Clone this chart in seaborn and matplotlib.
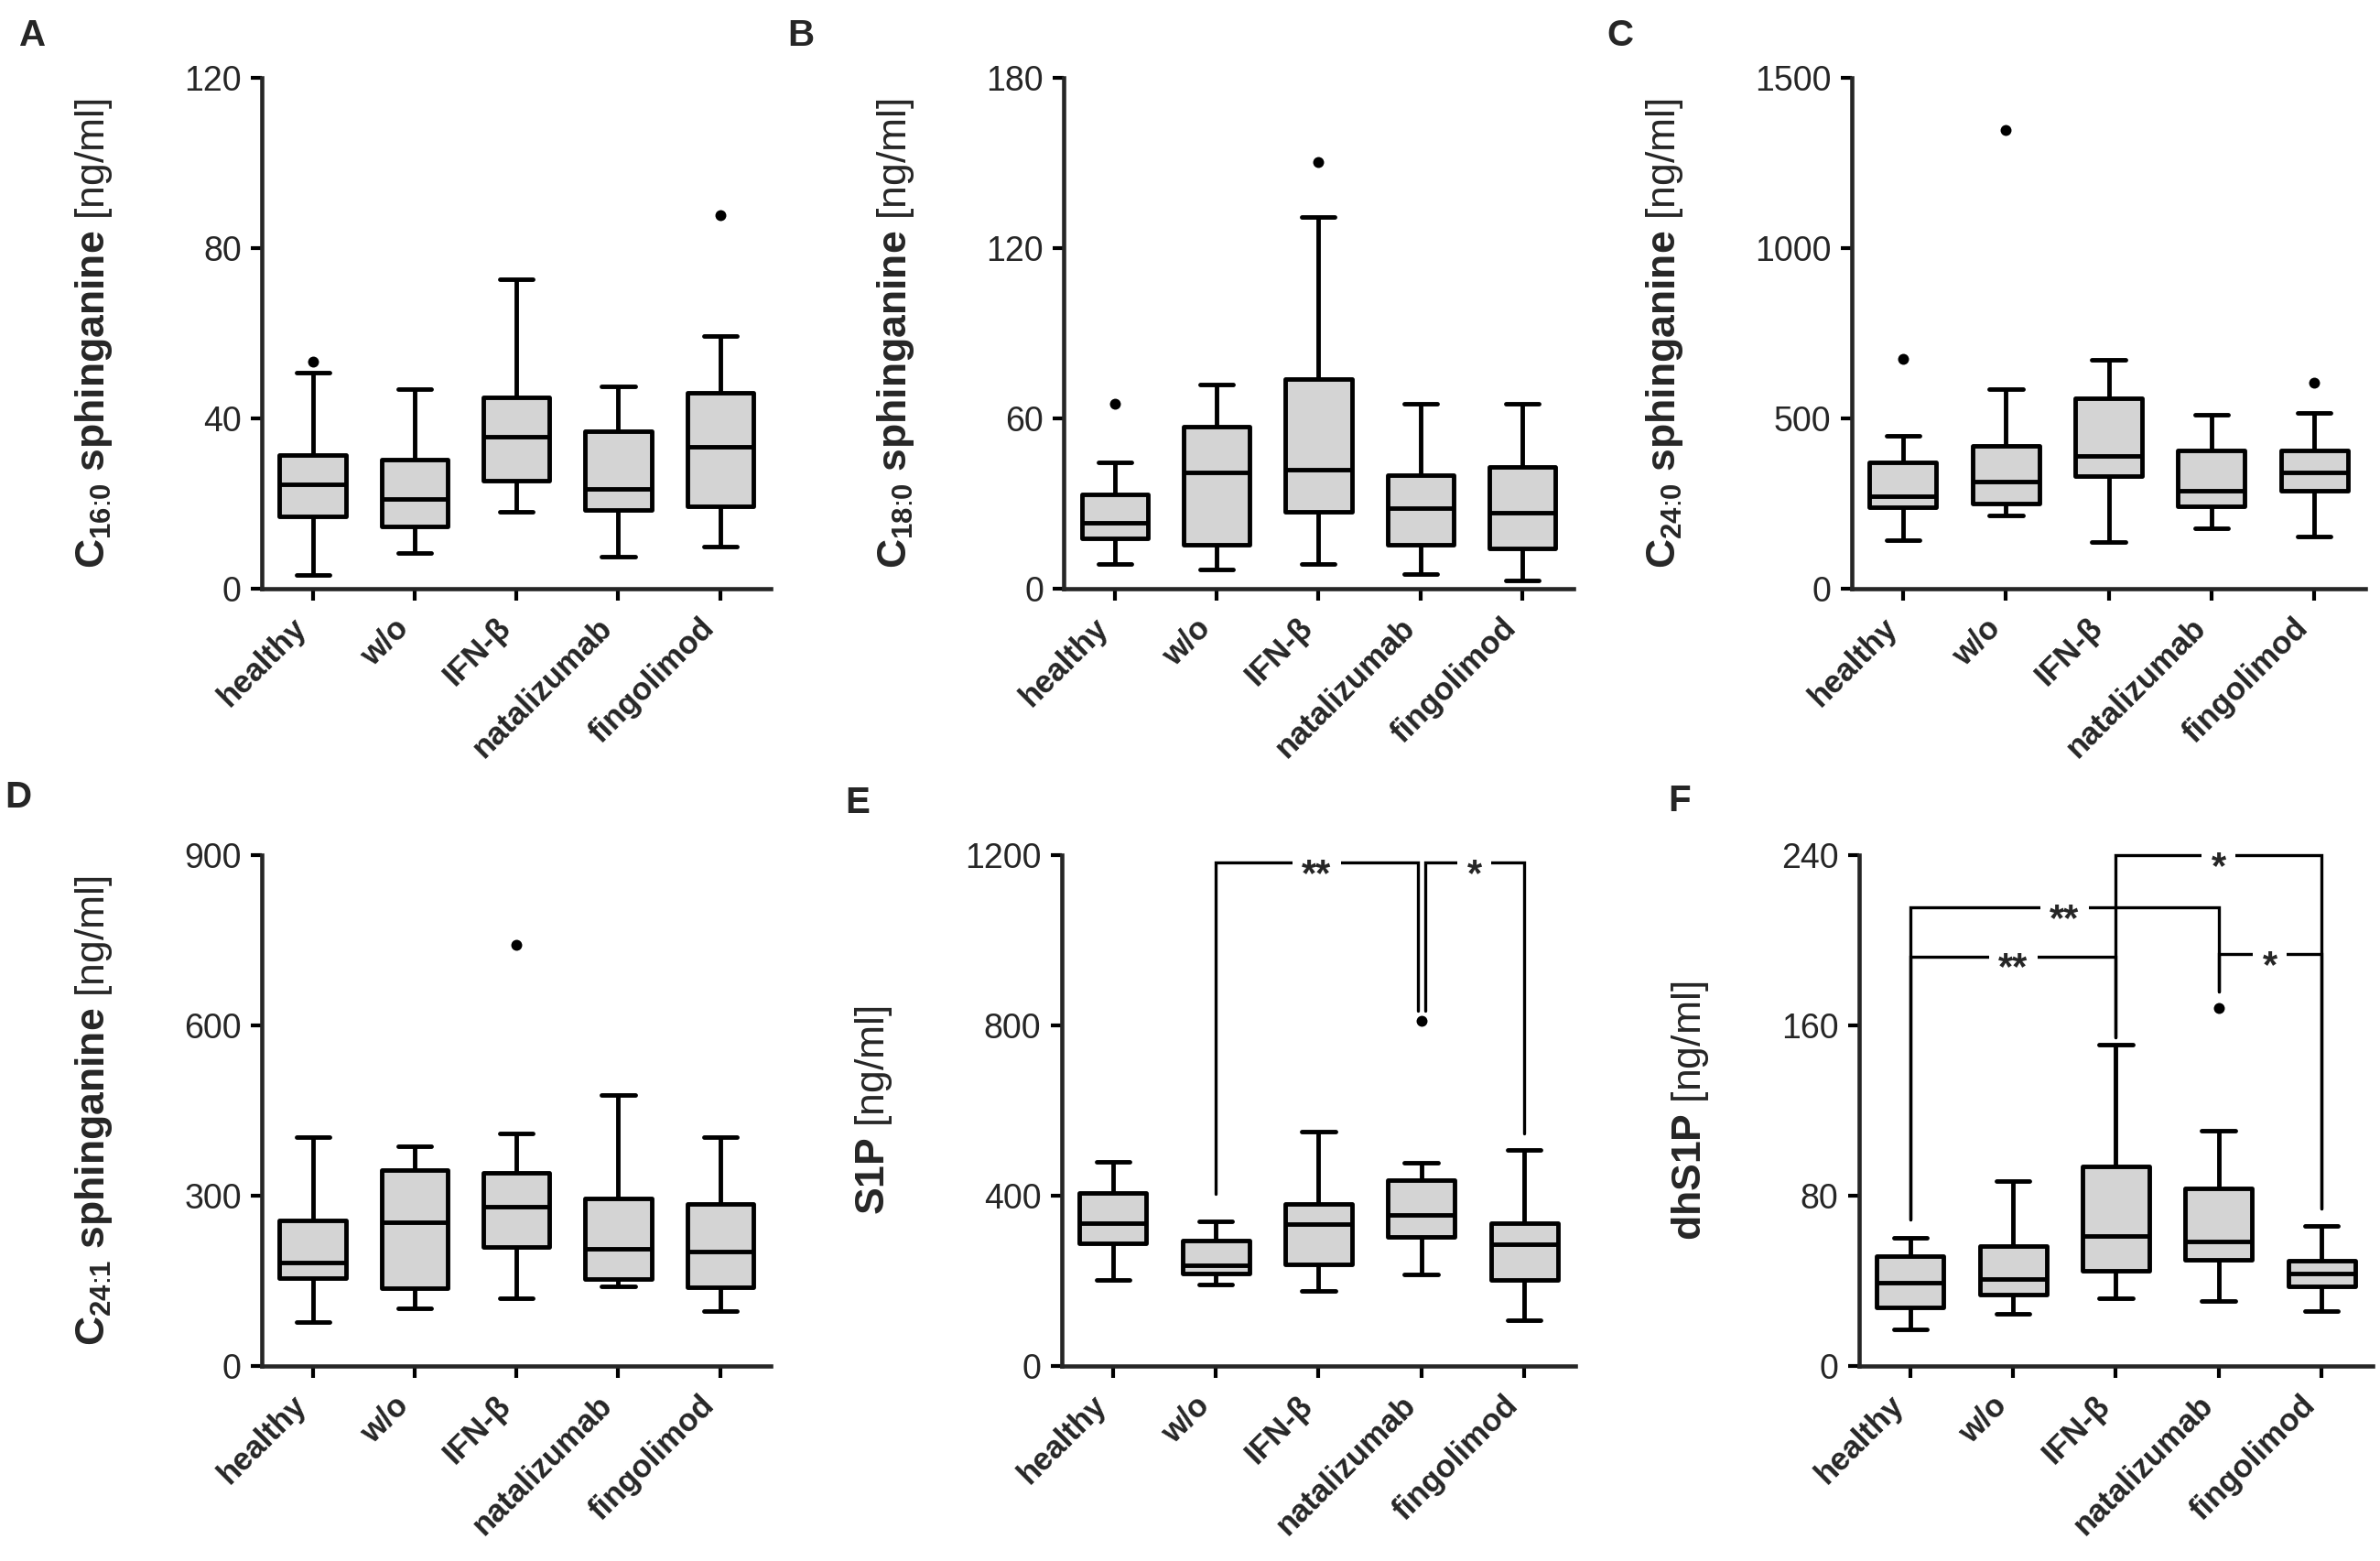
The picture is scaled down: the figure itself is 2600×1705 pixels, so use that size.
import matplotlib
matplotlib.use('Agg')
import matplotlib.pyplot as plt
import pandas as pd
import seaborn as sns

# groups on the x axis
groups = ['healthy', 'w/o', 'IFN-β', 'natalizumab', 'fingolimod']

# five-number summaries: [min, q1, median, q3, max] per group
c16_0 = [[3.1, 16.9, 24.5, 31.4, 50.7],
         [8.3, 14.5, 21.0, 30.4, 46.8],
         [18.0, 25.4, 35.6, 44.9, 72.7],
         [7.4, 18.4, 23.5, 37.0, 47.6],
         [9.8, 19.3, 33.4, 46.1, 59.3]]
c16_0_out = [53.3, None, None, None, 87.7]

c18_0 = [[8.6, 17.8, 23.3, 33.3, 44.5],
         [6.6, 15.3, 40.8, 57.0, 72.0],
         [8.6, 27.2, 42.0, 73.8, 130.9],
         [5.0, 15.3, 28.4, 40.0, 65.2],
         [2.7, 14.2, 26.6, 43.0, 65.2]]
c18_0_out = [65.2, None, 150.3, None, None]

c24_0 = [[141, 238, 270, 371, 449],
         [215, 250, 315, 418, 585],
         [137, 329, 389, 559, 673],
         [176, 241, 288, 406, 510],
         [154, 288, 342, 406, 517]]
c24_0_out = [676, 1346, None, None, 605]

c24_1 = [[77, 155, 182, 257, 403],
         [102, 137, 254, 346, 387],
         [119, 209, 281, 340, 410],
         [141, 153, 207, 295, 477],
         [96, 138, 201, 286, 403]]
c24_1_out = [None, None, 743, None, None]

s1p = [[203, 289, 335, 406, 480],
       [191, 218, 237, 294, 339],
       [176, 239, 333, 381, 551],
       [214, 303, 355, 437, 478],
       [107, 201, 285, 335, 508]]
s1p_out = [None, None, None, 812, None]

dhs1p = [[17.1, 27.6, 39.2, 51.8, 60.1],
         [24.4, 33.4, 40.9, 56.4, 87.1],
         [31.7, 44.7, 61.0, 93.9, 150.9],
         [30.7, 49.7, 58.5, 83.3, 110.6],
         [25.7, 37.4, 43.6, 49.5, 65.8]]
dhs1p_out = [None, None, None, 168.1, None]

# significance brackets: (x1, x2, height, left leg end, right leg end, label)
s1p_sig = [(1, 2.965, 1184, 404, 835, '**'),
           (3.035, 4, 1184, 835, 546, '*')]
dhs1p_sig = [(2, 4, 240, 154.5, 74, '*'),
             (0, 3, 215.5, 69, 176, '**'),
             (0, 2, 192.5, 69, 154.5, '**'),
             (3, 4, 193.5, 176, 74, '*')]

sns.set_style('ticks')
plt.rcParams['font.family'] = ['Liberation Sans', 'DejaVu Sans']
plt.rcParams['mathtext.fontset'] = 'custom'
plt.rcParams['mathtext.rm'] = 'Liberation Sans'
plt.rcParams['mathtext.bf'] = 'Liberation Sans:bold'
plt.rcParams['mathtext.it'] = 'Liberation Sans:italic'


def long_form(stats):
    rows = []
    for g, vals in zip(groups, stats):
        for v in vals:
            rows.append({'group': g, 'value': v})
    return pd.DataFrame(rows)


def outlier_frame(outs):
    rows = [{'group': g, 'value': v} for g, v in zip(groups, outs) if v is not None]
    return pd.DataFrame(rows)


def chain_label(a, b):
    # bold "C a:b sphinganine", colon as plain text so mathtext adds no spacing
    return (r'$\mathbf{C}_{\mathbf{' + a + r'}\text{:}\mathbf{' + b + r'}}'
            r'\ \mathbf{sphinganine}$ [ng/ml]')


def draw_bracket(ax, x1, x2, y, leg1, leg2, label):
    ax.plot([x1, x1, x2, x2], [leg1, y, y, leg2], color='black', lw=2.4,
            clip_on=False, solid_joinstyle='miter', zorder=6)
    ax.annotate(label, xy=((x1 + x2) / 2, y), xytext=(0, -10),
                textcoords='offset points', ha='center', va='center',
                fontsize=30, fontweight='bold', annotation_clip=False, zorder=7,
                bbox=dict(boxstyle='square,pad=0.25', fc='white', ec='none'))


fig = plt.figure(figsize=(26, 17.05), dpi=100)

panels = [
    ('A', [0.110, 0.623, 0.214, 0.327], c16_0, c16_0_out, [0, 40, 80, 120],
     chain_label('16', '0'), []),
    ('B', [0.447, 0.623, 0.214, 0.327], c18_0, c18_0_out, [0, 60, 120, 180],
     chain_label('18', '0'), []),
    ('C', [0.778, 0.623, 0.216, 0.327], c24_0, c24_0_out, [0, 500, 1000, 1500],
     chain_label('24', '0'), []),
    ('D', [0.110, 0.125, 0.214, 0.327], c24_1, c24_1_out, [0, 300, 600, 900],
     chain_label('24', '1'), []),
    ('E', [0.446, 0.125, 0.216, 0.327], s1p, s1p_out, [0, 400, 800, 1200],
     r'$\mathbf{S1P}$ [ng/ml]', s1p_sig),
    ('F', [0.781, 0.125, 0.216, 0.327], dhs1p, dhs1p_out, [0, 80, 160, 240],
     r'$\mathbf{dhS1P}$ [ng/ml]', dhs1p_sig),
]

letter_pos = {'A': (0.008, 0.988), 'B': (0.331, 0.988), 'C': (0.675, 0.988),
              'D': (0.002, 0.500), 'E': (0.355, 0.497), 'F': (0.701, 0.498)}

for letter, rect, stats, outs, yticks, ylabel, sigs in panels:
    ax = fig.add_axes(rect)
    sns.boxplot(data=long_form(stats), x='group', y='value', order=groups,
                whis=(0, 100), width=0.65, color='#d4d4d4', saturation=1,
                linecolor='black', linewidth=3.5, showfliers=False, ax=ax)
    for p in ax.patches:
        p.set_joinstyle('round')
    sns.stripplot(data=outlier_frame(outs), x='group', y='value', order=groups,
                  jitter=False, color='black', size=8.6, ax=ax, zorder=5)
    for x1, x2, y, l1, l2, lab in sigs:
        draw_bracket(ax, x1, x2, y, l1, l2, lab)

    ax.set_xlim(-0.5, 4.5)
    ax.set_ylim(yticks[0], yticks[-1])
    ax.set_yticks(yticks)
    ax.set_xticks(range(len(groups)))
    ax.set_xticklabels(groups, rotation=45, ha='right', fontweight='bold', fontsize=25)
    ax.set_xlabel('')
    ax.set_ylabel(ylabel, fontsize=32, labelpad=55)
    sns.despine(ax=ax)
    for side in ['left', 'bottom']:
        ax.spines[side].set_linewidth(3.3)
    ax.tick_params(axis='both', direction='out', length=9, width=3.0, color='black')
    ax.tick_params(axis='y', labelsize=27, pad=7)
    ax.tick_params(axis='x', pad=10)

    fig.text(letter_pos[letter][0], letter_pos[letter][1], letter, fontsize=29,
             fontweight='bold', ha='left', va='top')

fig.savefig('out.png', dpi=100)
